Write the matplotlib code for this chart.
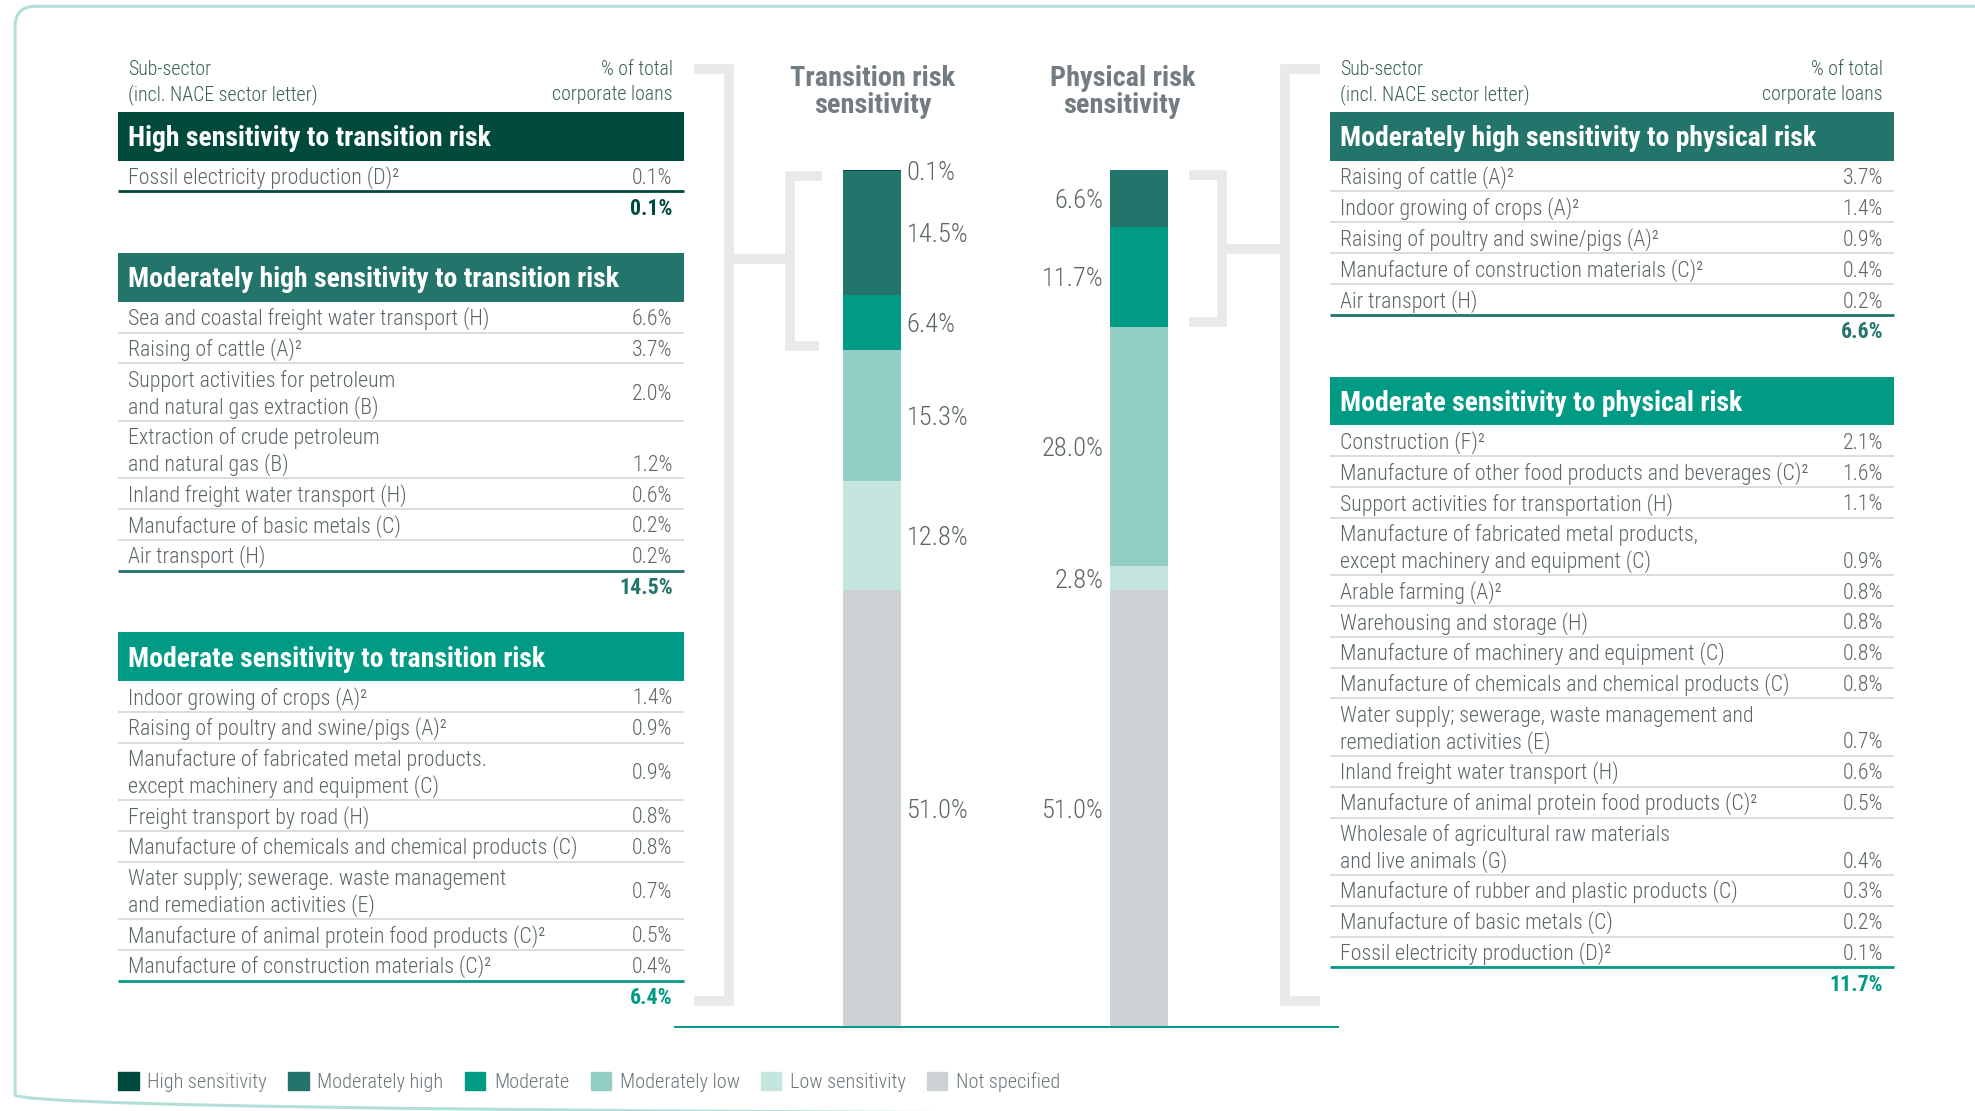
import matplotlib
matplotlib.use("Agg")
import matplotlib.pyplot as plt
from matplotlib import font_manager
from matplotlib.font_manager import FontProperties
from matplotlib.patches import Rectangle, FancyBboxPatch, Patch

# colours
HIGH = '#004a3c'
MOD_HIGH = '#23746a'
MODERATE = '#009a85'
MOD_LOW = '#93cec4'
LOW = '#c5e5df'
NOT_SPEC = '#cdd2d5'
TEXT = '#5b6569'
HEAD = '#3a5f5a'
TITLE_GREY = '#737c81'
BRACKET = '#e8e9eb'
SEP = '#d6dadc'
BORDER = '#b3dfd9'

# ---- data ----
segments = ['High sensitivity', 'Moderately high', 'Moderate',
            'Moderately low', 'Low sensitivity', 'Not specified']
seg_colors = [HIGH, MOD_HIGH, MODERATE, MOD_LOW, LOW, NOT_SPEC]
transition_share = [0.1, 14.5, 6.4, 15.3, 12.8, 51.0]
physical_share = [0.0, 6.6, 11.7, 28.0, 2.8, 51.0]

trans_high_rows = [("Fossil electricity production (D)²", "0.1%")]
trans_high_total = "0.1%"

trans_modhigh_rows = [
    ("Sea and coastal freight water transport (H)", "6.6%"),
    ("Raising of cattle (A)²", "3.7%"),
    ("Support activities for petroleum\nand natural gas extraction (B)", "2.0%"),
    ("Extraction of crude petroleum\nand natural gas (B)", "1.2%"),
    ("Inland freight water transport (H)", "0.6%"),
    ("Manufacture of basic metals (C)", "0.2%"),
    ("Air transport (H)", "0.2%"),
]
trans_modhigh_total = "14.5%"

trans_mod_rows = [
    ("Indoor growing of crops (A)²", "1.4%"),
    ("Raising of poultry and swine/pigs (A)²", "0.9%"),
    ("Manufacture of fabricated metal products.\nexcept machinery and equipment (C)", "0.9%"),
    ("Freight transport by road (H)", "0.8%"),
    ("Manufacture of chemicals and chemical products (C)", "0.8%"),
    ("Water supply; sewerage. waste management\nand remediation activities (E)", "0.7%"),
    ("Manufacture of animal protein food products (C)²", "0.5%"),
    ("Manufacture of construction materials (C)²", "0.4%"),
]
trans_mod_total = "6.4%"

phys_modhigh_rows = [
    ("Raising of cattle (A)²", "3.7%"),
    ("Indoor growing of crops (A)²", "1.4%"),
    ("Raising of poultry and swine/pigs (A)²", "0.9%"),
    ("Manufacture of construction materials (C)²", "0.4%"),
    ("Air transport (H)", "0.2%"),
]
phys_modhigh_total = "6.6%"

phys_mod_rows = [
    ("Construction (F)²", "2.1%"),
    ("Manufacture of other food products and beverages (C)²", "1.6%"),
    ("Support activities for transportation (H)", "1.1%"),
    ("Manufacture of fabricated metal products,\nexcept machinery and equipment (C)", "0.9%"),
    ("Arable farming (A)²", "0.8%"),
    ("Warehousing and storage (H)", "0.8%"),
    ("Manufacture of machinery and equipment (C)", "0.8%"),
    ("Manufacture of chemicals and chemical products (C)", "0.8%"),
    ("Water supply; sewerage, waste management and\nremediation activities (E)", "0.7%"),
    ("Inland freight water transport (H)", "0.6%"),
    ("Manufacture of animal protein food products (C)²", "0.5%"),
    ("Wholesale of agricultural raw materials\nand live animals (G)", "0.4%"),
    ("Manufacture of rubber and plastic products (C)", "0.3%"),
    ("Manufacture of basic metals (C)", "0.2%"),
    ("Fossil electricity production (D)²", "0.1%"),
]
phys_mod_total = "11.7%"

# ---- fonts: prefer a condensed face, like the original ----
names = {f.name for f in font_manager.fontManager.ttflist}
FONT = 'Liberation Sans'
for cand in ['Roboto Condensed', 'Liberation Sans Narrow', 'Open Sans Condensed',
             'Noto Sans Condensed']:
    if cand in names:
        FONT = cand
        break
plt.rcParams['font.family'] = [FONT, 'DejaVu Sans']
LIGHT = 'light'

fig = plt.figure(figsize=(19.75, 11.11), dpi=100)
renderer = fig.canvas.get_renderer()
SCALE = 1975 / 1568  # layout is worked out on a 1568 x 882 grid


def fit_size(sample, width, weight='normal'):
    # font size (pt) that makes `sample` as wide as in the original
    fp = FontProperties(family=[FONT, 'DejaVu Sans'], size=10, weight=weight)
    w, _, _ = renderer.get_text_width_height_descent(sample, fp, ismath=False)
    return 10 * width * SCALE / w


FS_ROW = fit_size("Manufacture of other food products and beverages (C)²", 371, LIGHT)
FS_BAND = fit_size("High sensitivity to transition risk", 290, 'bold')
FS_TITLE = fit_size("Transition risk", 132, 'bold')
FS_BAR = fit_size("14.5%", 49, LIGHT)
FS_HEAD = fit_size("(incl. NACE sector letter)", 150, LIGHT)
FS_LEG = fit_size("High sensitivity", 95, LIGHT)

ax = fig.add_axes([0, 0, 1, 1])
ax.set_xlim(0, 1568)
ax.set_ylim(882, 0)
ax.axis('off')
ax.patch.set_visible(False)
ax.set_zorder(2)


def txt(x, yc, s, size, **kw):
    # place text so that its cap height is centred on yc
    ax.text(x, yc + 0.395 * size, s, fontsize=size, va='baseline', **kw)


# outer frame (bottom and right edges run off the picture)
ax.add_patch(FancyBboxPatch((12, 5), 1640, 880, boxstyle="round,pad=0,rounding_size=16",
                            fc='none', ec=BORDER, lw=2.2))


def draw_group(x0, x1, top, title, color, rows, total, bottom_vals=(), all_bottom=False):
    band_h = 38.5
    ax.add_patch(Rectangle((x0, top), x1 - x0, band_h, fc=color, ec='none'))
    txt(x0 + 8, top + band_h / 2, title, FS_BAND, color='white', fontweight='bold')
    y = top + band_h
    for i, (label, val) in enumerate(rows):
        lines = label.split('\n')
        h = 24.5 if len(lines) == 1 else 45.5
        for j, ln in enumerate(lines):
            txt(x0 + 8, y + 12.5 + 21 * j, ln, FS_ROW, color=TEXT, fontweight=LIGHT)
        if len(lines) == 1:
            vy = y + 12.5
        elif all_bottom or label in bottom_vals:
            vy = y + 33.5
        else:
            vy = y + h / 2
        txt(x1 - 9, vy, val, FS_ROW, color=TEXT, ha='right', fontweight=LIGHT)
        y += h
        if i < len(rows) - 1:
            ax.plot([x0, x1], [y, y], color=SEP, lw=1.3, solid_capstyle='butt')
    ax.plot([x0, x1], [y, y], color=color, lw=2, solid_capstyle='butt')
    txt(x1 - 9, y + 12.5, total, FS_ROW, color=color, ha='right', fontweight='bold')
    return y


def header(x0, x1, top):
    kw = dict(color=HEAD, fontweight=LIGHT)
    txt(x0 + 8, top - 35, "Sub-sector", FS_HEAD, **kw)
    txt(x0 + 8, top - 15, "(incl. NACE sector letter)", FS_HEAD, **kw)
    txt(x1 - 9, top - 35, "% of total", FS_HEAD, ha='right', **kw)
    txt(x1 - 9, top - 15, "corporate loans", FS_HEAD, ha='right', **kw)


GAP = 49
# left tables
LX0, LX1 = 94, 543
header(LX0, LX1, 89)
y = draw_group(LX0, LX1, 89, "High sensitivity to transition risk", HIGH,
               trans_high_rows, trans_high_total)
y = draw_group(LX0, LX1, y + GAP, "Moderately high sensitivity to transition risk", MOD_HIGH,
               trans_modhigh_rows, trans_modhigh_total,
               bottom_vals={"Extraction of crude petroleum\nand natural gas (B)"})
y = draw_group(LX0, LX1, y + GAP, "Moderate sensitivity to transition risk", MODERATE,
               trans_mod_rows, trans_mod_total)

# right tables
RX0, RX1 = 1056, 1504
header(RX0, RX1, 89)
y = draw_group(RX0, RX1, 89, "Moderately high sensitivity to physical risk", MOD_HIGH,
               phys_modhigh_rows, phys_modhigh_total, all_bottom=True)
y = draw_group(RX0, RX1, y + GAP, "Moderate sensitivity to physical risk", MODERATE,
               phys_mod_rows, phys_mod_total, all_bottom=True)

# brackets
bk = dict(color=BRACKET, lw=7, solid_joinstyle='miter', solid_capstyle='butt')
ax.plot([551, 578.5, 578.5, 551], [54.5, 54.5, 795, 795], **bk)
ax.plot([578.5, 627.5], [206, 206], **bk)
ax.plot([653, 627.5, 627.5, 650], [140, 140, 275, 275], **bk)
ax.plot([944, 970.5, 970.5, 944], [139, 139, 256, 256], **bk)
ax.plot([970.5, 1020], [198, 198], **bk)
ax.plot([1048, 1020, 1020, 1048], [54.5, 54.5, 795, 795], **bk)

# column titles
tk = dict(color=TITLE_GREY, ha='center', fontweight='bold')
txt(693, 60, "Transition risk", FS_TITLE, **tk)
txt(693, 82, "sensitivity", FS_TITLE, **tk)
txt(891, 60, "Physical risk", FS_TITLE, **tk)
txt(891, 82, "sensitivity", FS_TITLE, **tk)

# baseline
ax.plot([535, 1063], [815, 815], color=MODERATE, lw=1.4, solid_capstyle='butt')

# ---- stacked bars ----
bx = fig.add_axes([586 / 1568, 67 / 882, 424 / 1568, 680 / 882])
bx.set_zorder(1)
bx.axis('off')
bw = 46 / 212
bx.set_xlim(-0.5, 1.5)
bx.set_ylim(0, sum(transition_share))

for i, vals in enumerate([transition_share, physical_share]):
    bottom = 0
    for name, v, c in zip(segments[::-1], vals[::-1], seg_colors[::-1]):
        bx.bar(i, v, bottom=bottom, width=bw, color=c, lw=0)
        if v > 0:
            mid = bottom + v / 2
            side = 1 if i == 0 else -1
            bx.annotate(f"{v:.1f}%", (i + side * bw / 2, mid),
                        xytext=(side * 4.5, -0.358 * FS_BAR),
                        textcoords='offset points', ha='left' if side > 0 else 'right',
                        va='baseline', fontsize=FS_BAR, color=TEXT, fontweight=LIGHT)
        bottom += v

# legend
E = FS_LEG / 0.907
leg = fig.legend([Patch(color=c) for c in seg_colors], segments, loc='center left',
                 bbox_to_anchor=(94 / 1568, 1 - 859 / 882), ncol=6, frameon=False,
                 prop=FontProperties(family=[FONT, 'DejaVu Sans'], size=FS_LEG, weight=LIGHT),
                 labelcolor='#6b757a', handlelength=16 / E, handleheight=16 / E,
                 handletextpad=7 / E, columnspacing=17 / E, borderaxespad=0, borderpad=0)

fig.savefig('out.png', dpi=100)
